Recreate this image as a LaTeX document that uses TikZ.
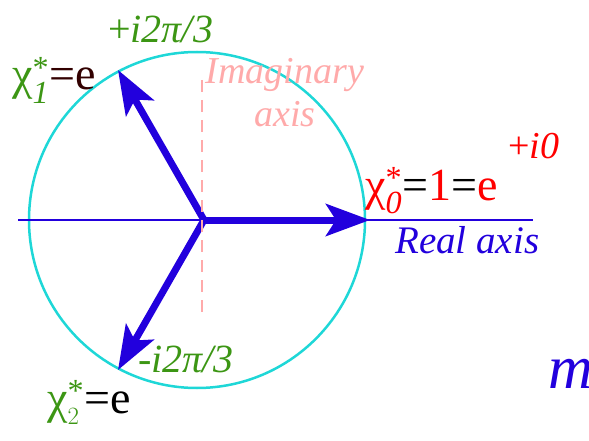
\documentclass[tikz,border=0pt]{standalone}
\usepackage{amsmath}
\usepackage{fontspec}
\setmainfont{Liberation Serif}
\usetikzlibrary{arrows.meta}
\definecolor{ringcyan}{RGB}{30,215,215}
\definecolor{vecblue}{RGB}{34,0,221}
\definecolor{phasegreen}{RGB}{60,150,20}
\definecolor{axispink}{RGB}{255,170,170}
\definecolor{darkbrown}{RGB}{50,0,0}
\NewDocumentCommand \chr{ m }{%
    $\text{χ}^{\text{*}}_{#1}$%
}

\begin{document}
\begin{tikzpicture}[x=1pt, y=-1pt]
    \tikzstyle{vec}=[vecblue, line width=7pt, -{Stealth[length=44pt, width=32pt, inset=10pt]}]
    \tikzstyle{lbl}=[inner sep=0pt, anchor=base west, font=\fontsize{40}{43}\selectfont\itshape]
    \tikzstyle{big}=[inner sep=0pt, anchor=base west, font=\fontsize{46}{50}\selectfont]
    \useasboundingbox (0,0) rectangle (589,441);
    \draw[ringcyan, line width=2.5pt] (197,220) circle (168pt);
    % axes and vectors
    \coordinate (RL) at (18,220);
    \coordinate (RR) at (533,220);
    \coordinate (IT) at (202,80);
    \coordinate (IB) at (202,312);
    \coordinate (O) at (204,220);
    \coordinate (X0) at (370,220);
    \coordinate (X1) at (118,70);
    \coordinate (X2) at (118,370);
    \draw[vecblue, line width=1.2pt] (RL) -- (RR);
    \draw[vec] (O) -- (X0);
    \draw[vec] (O) -- (X1);
    \draw[vec] (O) -- (X2);
    \draw[axispink, line width=2.5pt, dash pattern=on 12pt off 8pt] (IT) -- (IB);
    % labels
    \node[big] (c0) at (365,200) {\color{red}\chr{\textit{0}}\color{black}=\color{red}1\color{black}=\color{red}e};
    \node[lbl, red, font=\fontsize{38}{43}\selectfont] (p0) at (508,158) {+\textit{i0}};
    \node[big] (c1) at (12,90) {\color{phasegreen}\chr{\textit{1}}\color{darkbrown}=e};
    \node[lbl, phasegreen, font=\fontsize{40}{43}\selectfont] (p1) at (108,43) {+\textit{i2π/3}};
    \node[big] (c2) at (47,413) {\color{phasegreen}\chr{2}\color{black}=e};
    \node[lbl, phasegreen] (p2) at (138,372) {-i2π/3};
    \node[lbl, vecblue, font=\fontsize{39}{43}\selectfont\itshape] (re) at (395,253) {Real axis};
    \node[lbl, axispink, anchor=base, align=center, font=\fontsize{38}{43}\selectfont\itshape] (im) at (285,127) {Imaginary\\axis};
    \node[big, vecblue, font=\fontsize{62}{66}\selectfont\itshape] (m) at (548,388) {m};
\end{tikzpicture}
\end{document}
